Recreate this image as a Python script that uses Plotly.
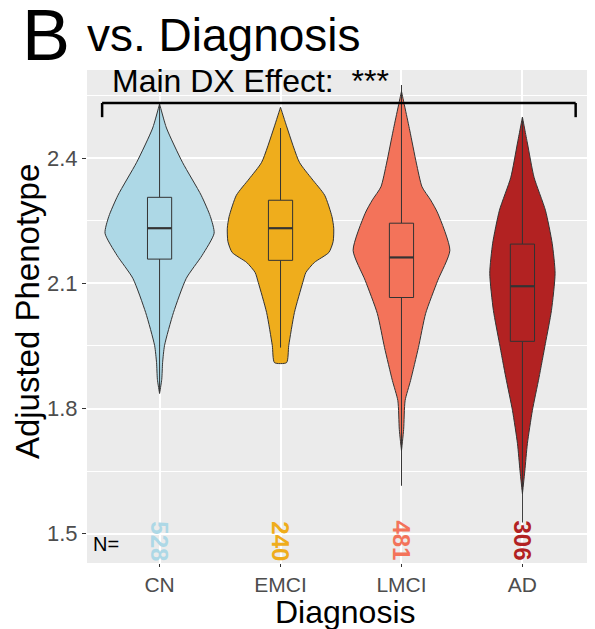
import plotly.graph_objects as go

# ---------------- data ----------------
categories = ["CN", "EMCI", "LMCI", "AD"]
counts = [528, 240, 481, 306]
colors = ["#ADD8E6", "#EFAD1C", "#F3735A", "#B22222"]

# violin outlines: y values and half-widths (category units)
cn_y = [2.530, 2.472, 2.390, 2.311, 2.260, 2.220, 2.167, 2.112, 2.030, 1.951, 1.910, 1.870, 1.836]
cn_w = [0.0, 0.057, 0.189, 0.344, 0.420, 0.451, 0.352, 0.221, 0.115, 0.041, 0.025, 0.018, 0.0]

emci_y = [2.522, 2.472, 2.390, 2.350, 2.311, 2.260, 2.232, 2.200, 2.174, 2.150, 2.126, 2.102, 2.030, 1.951, 1.910]
emci_w = [0.0, 0.055, 0.156, 0.260, 0.365, 0.425, 0.440, 0.435, 0.400, 0.280, 0.210, 0.184, 0.115, 0.068, 0.050]

lmci_y = [2.560, 2.467, 2.388, 2.331, 2.300, 2.268, 2.179, 2.107, 2.028, 1.946, 1.867, 1.819, 1.750, 1.699]
lmci_w = [0.0, 0.068, 0.123, 0.170, 0.240, 0.300, 0.400, 0.300, 0.200, 0.140, 0.075, 0.030, 0.018, 0.0]

ad_y = [2.498, 2.436, 2.354, 2.275, 2.196, 2.124, 2.035, 1.956, 1.874, 1.795, 1.716, 1.651, 1.596]
ad_w = [0.0, 0.041, 0.096, 0.190, 0.246, 0.270, 0.240, 0.190, 0.137, 0.082, 0.041, 0.020, 0.0]

violin_y = [cn_y, emci_y, lmci_y, ad_y]
violin_w = [cn_w, emci_w, lmci_w, ad_w]

# box statistics
q1 = [2.158, 2.155, 2.066, 1.961]
median = [2.232, 2.232, 2.162, 2.093]
q3 = [2.306, 2.299, 2.244, 2.194]
lower = [1.840, 1.946, 1.615, 1.527]
upper = [2.530, 2.472, 2.575, 2.498]

yticks = [1.5, 1.8, 2.1, 2.4]
yminor = [1.65, 1.95, 2.25, 2.55]

FONT = "Liberation Sans, Arial, sans-serif"
OUTLINE = "#333333"
BOX_W = 0.2

fig = go.Figure()


def seg(x0, y0, x1, y1, width, color=OUTLINE):
    fig.add_trace(go.Scatter(x=[x0, x1], y=[y0, y1], mode="lines",
                             line=dict(color=color, width=width),
                             showlegend=False, hoverinfo="skip"))


for i, cat in enumerate(categories):
    ys = violin_y[i]
    ws = violin_w[i]
    xs_right = [i + w for w in ws]
    xs_left = [i - w for w in reversed(ws)]
    fig.add_trace(go.Scatter(
        x=xs_right + xs_left + [xs_right[0]],
        y=list(ys) + list(reversed(ys)) + [ys[0]],
        mode="lines", fill="toself", fillcolor=colors[i],
        line=dict(color=OUTLINE, width=1, shape="spline", smoothing=0.6),
        hoverinfo="skip", showlegend=False))

    # whiskers
    seg(i, q3[i], i, upper[i], 1)
    seg(i, q1[i], i, lower[i], 1)
    # box
    h = BOX_W / 2
    fig.add_trace(go.Scatter(
        x=[i - h, i + h, i + h, i - h, i - h],
        y=[q1[i], q1[i], q3[i], q3[i], q1[i]],
        mode="lines", fill="toself", fillcolor=colors[i],
        line=dict(color=OUTLINE, width=1), showlegend=False, hoverinfo="skip"))
    # median
    seg(i - h, median[i], i + h, median[i], 2.2)

# N labels
for i, n in enumerate(counts):
    fig.add_annotation(x=i, y=1.483, xref="x", yref="y", text=f"<b>{n}</b>",
                       textangle=90, showarrow=False,
                       font=dict(family=FONT, size=24, color=colors[i]))
fig.add_annotation(x=-0.44, y=1.476, xref="x", yref="y", text="N=", showarrow=False,
                   font=dict(family=FONT, size=20, color="black"))

# bracket + effect text
bx0, bx1, by_top, by_bot = -0.475, 3.44, 2.532, 2.498
for (x0, y0, x1, y1) in [(bx0, by_top, bx1, by_top), (bx0, by_top, bx0, by_bot), (bx1, by_top, bx1, by_bot)]:
    fig.add_shape(type="line", x0=x0, y0=y0, x1=x1, y1=y1, xref="x", yref="y",
                  line=dict(color="black", width=2.5))
fig.add_annotation(x=-0.41, y=2.585, xref="x", yref="y", text="Main DX Effect:  ***",
                   xanchor="left", yanchor="middle", showarrow=False,
                   font=dict(family=FONT, size=32, color="black"))

# titles
fig.add_annotation(x=-0.132, y=1.07, xref="paper", yref="paper", text="B",
                   xanchor="left", yanchor="middle", showarrow=False,
                   font=dict(family=FONT, size=72, color="black"))
fig.add_annotation(x=-0.003, y=1.07, xref="paper", yref="paper", text="vs. Diagnosis",
                   xanchor="left", yanchor="middle", showarrow=False,
                   font=dict(family=FONT, size=46, color="black"))
fig.add_annotation(x=-0.118, y=0.509, xref="paper", yref="paper", text="Adjusted Phenotype",
                   textangle=-90, xanchor="center", yanchor="middle", showarrow=False,
                   font=dict(family=FONT, size=33, color="black"))
fig.add_annotation(x=0.508, y=-0.1, xref="paper", yref="paper", text="Diagnosis",
                   xanchor="center", yanchor="middle",
                   showarrow=False, font=dict(family=FONT, size=32, color="black"))

# page body has an 8px margin: figure is sized so the panel lands where the reference has it
fig.update_layout(
    width=587, height=621,
    margin=dict(l=79, r=0, t=62, b=66),
    paper_bgcolor="white", plot_bgcolor="#EBEBEB",
    font=dict(family=FONT),
    showlegend=False,
    xaxis=dict(range=[-0.6, 3.6], tickmode="array", tickvals=list(range(len(categories))),
               ticktext=categories, showgrid=True, gridcolor="white", gridwidth=1.5,
               zeroline=False, ticks="outside", ticklen=3, tickcolor=OUTLINE,
               tickfont=dict(family=FONT, size=21, color="#4D4D4D"), showline=False),
    yaxis=dict(range=[1.43, 2.611], tickmode="array", tickvals=yticks,
               ticktext=[f"{v:.1f}" for v in yticks],
               showgrid=True, gridcolor="white", gridwidth=1.5, zeroline=False,
               ticks="outside", ticklen=4, tickcolor=OUTLINE,
               tickfont=dict(family=FONT, size=22, color="#4D4D4D"),
               minor=dict(tickvals=yminor, showgrid=True, gridcolor="white", gridwidth=0.8, ticks=""),
               showline=False),
)

fig.write_html("out.html")
